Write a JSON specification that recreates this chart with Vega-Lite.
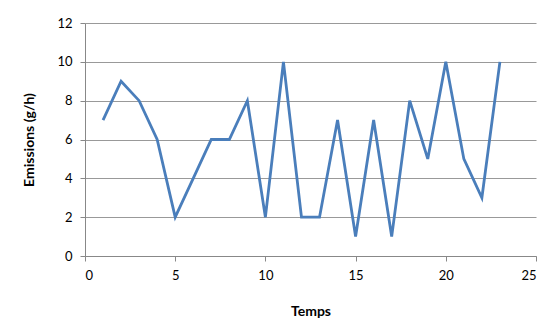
{
  "$schema": "https://vega.github.io/schema/vega-lite/v6.json",
  "width": 451,
  "height": 233,
  "autosize": {"type": "none"},
  "padding": {"left": 85, "top": 23, "right": 17, "bottom": 76},
  "background": "white",
  "data": {"values": [
    {"t": 1, "e": 7}, {"t": 2, "e": 9}, {"t": 3, "e": 8}, {"t": 4, "e": 6},
    {"t": 5, "e": 2}, {"t": 6, "e": 4}, {"t": 7, "e": 6}, {"t": 8, "e": 6},
    {"t": 9, "e": 8}, {"t": 10, "e": 2}, {"t": 11, "e": 10}, {"t": 12, "e": 2},
    {"t": 13, "e": 2}, {"t": 14, "e": 7}, {"t": 15, "e": 1}, {"t": 16, "e": 7},
    {"t": 17, "e": 1}, {"t": 18, "e": 8}, {"t": 19, "e": 5}, {"t": 20, "e": 10},
    {"t": 21, "e": 5}, {"t": 22, "e": 3}, {"t": 23, "e": 10}
  ]},
  "mark": {"type": "line", "color": "#4A7EBB", "strokeWidth": 2.8, "strokeJoin": "miter"},
  "encoding": {
    "x": {
      "field": "t", "type": "quantitative", "title": "Temps",
      "scale": {"domain": [0, 25], "nice": false, "zero": true},
      "axis": {"values": [0, 5, 10, 15, 20, 25], "grid": false, "titlePadding": 22, "labelPadding": 8, "tickSize": 5}
    },
    "y": {
      "field": "e", "type": "quantitative", "title": "Emissions (g/h)",
      "scale": {"domain": [0, 12], "nice": false},
      "axis": {"values": [0, 2, 4, 6, 8, 10, 12], "grid": true, "titlePadding": 20, "labelPadding": 8, "tickSize": 5}
    }
  },
  "config": {
    "view": {"stroke": null},
    "axis": {
      "domainColor": "#888888",
      "tickColor": "#888888",
      "gridColor": "#999999",
      "labelFont": "Lato",
      "labelFontSize": 13,
      "labelColor": "#000000",
      "titleFont": "Lato",
      "titleFontSize": 14,
      "titleFontWeight": "bold",
      "titleColor": "#000000"
    }
  }
}
